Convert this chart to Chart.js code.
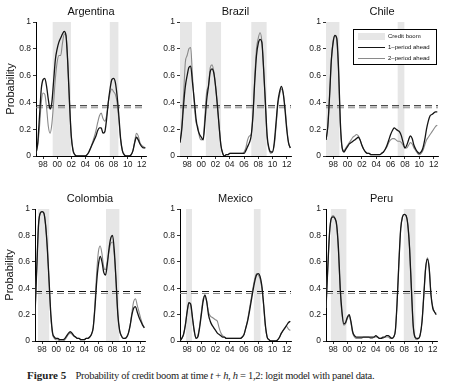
<!DOCTYPE html>
<html><head><meta charset="utf-8">
<script src="https://cdn.jsdelivr.net/npm/chart.js@4.4.1/dist/chart.umd.min.js"></script>
<style>
html,body{margin:0;padding:0;background:#fff;width:451px;height:383px;overflow:hidden;position:relative;font-family:"Liberation Sans",Arial,sans-serif;}
canvas{position:absolute;}
.ttl{position:absolute;text-align:center;font-size:11px;color:#111;line-height:13px;}
#legend{position:absolute;left:353px;top:29px;width:84px;height:36px;border:1px solid #000;background:#fff;font-size:6px;color:#111;box-sizing:border-box;}
#legend .sw{position:absolute;left:4px;width:27px;}
#legend .tx{position:absolute;left:34px;line-height:7px;white-space:nowrap;}
#cap{position:absolute;left:27px;top:369px;font-family:"Liberation Serif","Times New Roman",serif;font-size:10.5px;color:#222;white-space:nowrap;letter-spacing:-0.3px;}
#cap b{font-size:11px;letter-spacing:0;}
</style>
</head><body>
<script>
// ---- data ----
const quarters = [1997.00,1997.25,1997.50,1997.75,1998.00,1998.25,1998.50,1998.75,1999.00,1999.25,1999.50,1999.75,
2000.00,2000.25,2000.50,2000.75,2001.00,2001.25,2001.50,2001.75,2002.00,2002.25,2002.50,2002.75,
2003.00,2003.25,2003.50,2003.75,2004.00,2004.25,2004.50,2004.75,2005.00,2005.25,2005.50,2005.75,
2006.00,2006.25,2006.50,2006.75,2007.00,2007.25,2007.50,2007.75,2008.00,2008.25,2008.50,2008.75,
2009.00,2009.25,2009.50,2009.75,2010.00,2010.25,2010.50,2010.75,2011.00,2011.25,2011.50,2011.75,
2012.00,2012.25,2012.50];
const xTickValues = [1998,2000,2002,2004,2006,2008,2010,2012];
const yTickValues = [0,0.2,0.4,0.6,0.8,1];
const threshold1 = 0.375;
const threshold2 = 0.36;

const argentina1 = [0.02,0.10,0.30,0.50, 0.57,0.58,0.52,0.42, 0.35,0.40,0.56,0.72, 0.80,0.85,0.88,0.91, 0.93,0.90,0.70,0.40, 0.15,0.04,0.01,0.00, 0.00,0.00,0.00,0.00, 0.00,0.01,0.03,0.06, 0.09,0.12,0.15,0.19, 0.21,0.21,0.17,0.18, 0.27,0.40,0.50,0.57, 0.58,0.55,0.45,0.30, 0.13,0.04,0.01,0.00, 0.00,0.00,0.01,0.04, 0.10,0.14,0.12,0.09, 0.07,0.06,0.06];
const argentina2 = [0.02,0.08,0.22,0.40, 0.47,0.46,0.36,0.22, 0.17,0.24,0.40,0.58, 0.70,0.75,0.75,0.84, 0.91,0.90,0.70,0.40, 0.15,0.05,0.01,0.00, 0.00,0.00,0.00,0.00, 0.00,0.01,0.03,0.06, 0.10,0.14,0.19,0.25, 0.30,0.32,0.28,0.26, 0.30,0.40,0.47,0.50, 0.48,0.46,0.40,0.27, 0.12,0.04,0.01,0.00, 0.00,0.00,0.01,0.04, 0.11,0.17,0.15,0.10, 0.08,0.07,0.06];
const argentinaBoom = [[1999.33,2001.96],[2007.43,2008.72]];

const brazil1 = [0.10,0.20,0.38,0.52, 0.60,0.66,0.67,0.55, 0.42,0.28,0.20,0.16, 0.14,0.12,0.25,0.42, 0.52,0.63,0.65,0.62, 0.52,0.38,0.22,0.08, 0.02,0.00,0.01,0.01, 0.02,0.02,0.02,0.02, 0.02,0.02,0.02,0.02, 0.02,0.04,0.07,0.10, 0.15,0.30,0.55,0.75, 0.84,0.87,0.85,0.65, 0.40,0.15,0.06,0.03, 0.03,0.10,0.25,0.40, 0.48,0.52,0.47,0.35, 0.20,0.10,0.06];
const brazil2 = [0.10,0.22,0.45,0.70, 0.75,0.80,0.81,0.60, 0.40,0.25,0.22,0.14, 0.12,0.13,0.30,0.48, 0.52,0.66,0.68,0.63, 0.52,0.38,0.22,0.08, 0.02,0.00,0.01,0.01, 0.02,0.02,0.02,0.02, 0.02,0.02,0.02,0.02, 0.03,0.06,0.12,0.15, 0.16,0.30,0.58,0.80, 0.88,0.92,0.86,0.65, 0.38,0.13,0.05,0.02, 0.03,0.08,0.22,0.38, 0.46,0.50,0.47,0.37, 0.22,0.10,0.06];
const brazilBoom = [[1997.0,1998.7],[2000.6,2002.8],[2007.0,2009.2]];

const chile1 = [0.12,0.22,0.45,0.72, 0.85,0.90,0.88,0.65, 0.25,0.06,0.03,0.05, 0.07,0.09,0.10,0.11, 0.12,0.13,0.14,0.12, 0.08,0.05,0.03,0.02, 0.02,0.01,0.01,0.01, 0.01,0.01,0.01,0.02, 0.03,0.05,0.08,0.12, 0.16,0.19,0.21,0.20, 0.19,0.18,0.15,0.10, 0.06,0.08,0.12,0.15, 0.13,0.08,0.05,0.03, 0.02,0.03,0.06,0.12, 0.20,0.26,0.30,0.31, 0.32,0.33,0.33];
const chile2 = [0.12,0.22,0.45,0.72, 0.86,0.90,0.86,0.62, 0.22,0.06,0.04,0.06, 0.08,0.10,0.12,0.14, 0.15,0.16,0.15,0.12, 0.08,0.05,0.03,0.02, 0.02,0.01,0.01,0.01, 0.01,0.01,0.01,0.02, 0.03,0.05,0.07,0.10, 0.12,0.13,0.13,0.12, 0.11,0.11,0.10,0.08, 0.06,0.06,0.08,0.10, 0.09,0.06,0.04,0.02, 0.01,0.02,0.04,0.08, 0.12,0.14,0.16,0.18, 0.20,0.22,0.23];
const chileBoom = [[1997.0,1998.9],[2006.95,2007.95]];

const colombia1 = [0.20,0.55,0.88,0.97, 0.98,0.97,0.88,0.70, 0.45,0.20,0.06,0.03, 0.02,0.02,0.01,0.01, 0.01,0.02,0.04,0.06, 0.07,0.06,0.04,0.03, 0.02,0.02,0.01,0.01, 0.01,0.02,0.02,0.03, 0.05,0.10,0.25,0.45, 0.58,0.64,0.60,0.52, 0.50,0.58,0.70,0.78, 0.80,0.68,0.45,0.20, 0.08,0.04,0.02,0.02, 0.03,0.06,0.12,0.20, 0.25,0.26,0.22,0.18, 0.15,0.12,0.10];
const colombia2 = [0.20,0.55,0.88,0.97, 0.98,0.97,0.88,0.70, 0.45,0.18,0.05,0.02, 0.01,0.01,0.00,0.00, 0.00,0.01,0.03,0.05, 0.06,0.05,0.04,0.03, 0.02,0.02,0.01,0.01, 0.01,0.02,0.02,0.03, 0.05,0.10,0.28,0.52, 0.68,0.72,0.66,0.56, 0.54,0.60,0.68,0.74, 0.75,0.65,0.45,0.20, 0.08,0.04,0.02,0.02, 0.03,0.06,0.12,0.22, 0.30,0.32,0.27,0.22, 0.17,0.13,0.10];
const colombiaBoom = [[1997.4,1999.05],[2007.05,2009.0]];

const mexico1 = [0.00,0.02,0.05,0.12, 0.22,0.29,0.28,0.18, 0.08,0.02,0.03,0.10, 0.20,0.30,0.35,0.30, 0.20,0.15,0.12,0.10, 0.08,0.06,0.05,0.04, 0.03,0.03,0.02,0.02, 0.02,0.02,0.02,0.02, 0.02,0.02,0.02,0.03, 0.05,0.10,0.15,0.22, 0.30,0.38,0.45,0.50, 0.51,0.49,0.42,0.28, 0.12,0.03,0.01,0.00, 0.00,0.00,0.00,0.01, 0.03,0.06,0.08,0.10, 0.12,0.14,0.15];
const mexico2 = [0.00,0.02,0.05,0.12, 0.22,0.29,0.27,0.17, 0.07,0.02,0.04,0.11, 0.22,0.32,0.34,0.30, 0.22,0.19,0.18,0.17, 0.16,0.15,0.10,0.06, 0.04,0.03,0.02,0.02, 0.02,0.02,0.02,0.02, 0.02,0.02,0.02,0.03, 0.05,0.10,0.16,0.24, 0.32,0.40,0.47,0.51, 0.50,0.47,0.40,0.27, 0.11,0.03,0.01,0.00, 0.00,0.00,0.00,0.01, 0.03,0.06,0.08,0.10, 0.11,0.09,0.08];
const mexicoBoom = [[1997.85,1998.7],[2007.35,2008.35]];

const peru1 = [0.25,0.55,0.82,0.93, 0.94,0.93,0.88,0.70, 0.40,0.22,0.13,0.14, 0.18,0.20,0.15,0.07, 0.04,0.03,0.03,0.03, 0.03,0.03,0.03,0.03, 0.03,0.03,0.03,0.03, 0.04,0.03,0.02,0.02, 0.03,0.03,0.04,0.04, 0.03,0.02,0.03,0.08, 0.30,0.60,0.85,0.94, 0.96,0.95,0.88,0.70, 0.40,0.12,0.03,0.02, 0.02,0.05,0.15,0.35, 0.55,0.62,0.55,0.35, 0.25,0.22,0.20];
const peru2 = [0.25,0.55,0.82,0.93, 0.95,0.93,0.87,0.68, 0.38,0.20,0.12,0.13, 0.17,0.19,0.14,0.06, 0.03,0.02,0.02,0.02, 0.02,0.03,0.03,0.03, 0.03,0.02,0.02,0.03, 0.03,0.03,0.02,0.02, 0.02,0.03,0.03,0.03, 0.02,0.02,0.03,0.08, 0.30,0.60,0.85,0.94, 0.96,0.95,0.88,0.70, 0.40,0.12,0.03,0.01, 0.02,0.05,0.15,0.35, 0.55,0.63,0.56,0.36, 0.26,0.22,0.21];
const peruBoom = [[1997.65,1999.9],[2007.9,2009.6]];

// ---- layout ----
const panels = [
  {name:'Argentina', one:argentina1, two:argentina2, boom:argentinaBoom, px:36,  py:22,  pw:110, ph:134, left:true},
  {name:'Brazil',    one:brazil1,    two:brazil2,    boom:brazilBoom,    px:180, py:22,  pw:111, ph:134, left:false},
  {name:'Chile',     one:chile1,     two:chile2,     boom:chileBoom,     px:326, py:22,  pw:112, ph:134, left:false},
  {name:'Colombia',  one:colombia1,  two:colombia2,  boom:colombiaBoom,  px:35,  py:209, pw:110, ph:132, left:true},
  {name:'Mexico',    one:mexico1,    two:mexico2,    boom:mexicoBoom,    px:180, py:209, pw:111, ph:132, left:false},
  {name:'Peru',      one:peru1,      two:peru2,      boom:peruBoom,      px:326, py:209, pw:111, ph:132, left:false}
];

const AXW = 34, PADT = 8, PADR = 6, XH = 18;
function fmtY(v){ if (Math.abs(v) < 1e-9) return '0'; if (Math.abs(v-1) < 1e-9) return '1'; return v.toFixed(1); }
function fmtX(v){ const r = Math.round(v) % 100; return (r < 10 ? '0' : '') + r; }

panels.forEach(p => {
  const c = document.createElement('canvas');
  const W = AXW + p.pw + PADR, H = PADT + p.ph + XH;
  c.width = W; c.height = H;
  c.style.left = (p.px - AXW) + 'px'; c.style.top = (p.py - PADT) + 'px';
  c.style.width = W + 'px'; c.style.height = H + 'px';
  document.body.appendChild(c);

  const t = document.createElement('div');
  t.className = 'ttl'; t.textContent = p.name;
  t.style.left = p.px + 'px'; t.style.width = p.pw + 'px'; t.style.top = (p.py - 17) + 'px';
  document.body.appendChild(t);

  const ds = [];
  ds.push({data: quarters.map((x,i)=>({x, y:p.one[i]})), borderColor:'#151515', borderWidth:1.3, pointRadius:0, cubicInterpolationMode:'monotone', fill:false});
  ds.push({data: quarters.map((x,i)=>({x, y:p.two[i]})), borderColor:'#8a8a8a', borderWidth:1.1, pointRadius:0, cubicInterpolationMode:'monotone', fill:false});
  ds.push({data:[{x:1997,y:threshold1},{x:2012.6,y:threshold1}], borderColor:'#111', borderWidth:1, borderDash:[7,4], pointRadius:0, fill:false});
  ds.push({data:[{x:1997,y:threshold2},{x:2012.6,y:threshold2}], borderColor:'#8a8a8a', borderWidth:1, borderDash:[7,4], pointRadius:0, fill:false});
  p.boom.forEach(b => ds.push({data:[{x:b[0],y:1},{x:b[1],y:1}], borderWidth:0, borderColor:'rgba(0,0,0,0)', backgroundColor:'#e6e6e6', fill:'origin', pointRadius:0}));

  new Chart(c, {
    type:'line',
    data:{datasets:ds},
    options:{
      responsive:false, animation:false, devicePixelRatio:1,
      layout:{padding:{left:0, right:PADR, top:PADT, bottom:0}},
      plugins:{legend:{display:false}, tooltip:{enabled:false}, title:{display:false}},
      scales:{
        x:{type:'linear', min:1997, max:2012.6,
           afterBuildTicks:s=>{ s.ticks = xTickValues.map(v=>({value:v})); },
           afterFit:s=>{ s.height = XH; },
           ticks:{callback:v=>fmtX(v), font:{family:'Liberation Sans', size:8.5}, color:'#222', padding:1, maxRotation:0, autoSkip:false},
           grid:{display:true, drawOnChartArea:false, drawTicks:true, tickLength:3, color:'#000', lineWidth:0.8},
           border:{display:true, color:'#000', width:1}},
        y:{min:0, max:1,
           afterBuildTicks:s=>{ s.ticks = yTickValues.map(v=>({value:v})); },
           afterFit:s=>{ s.width = AXW; },
           ticks:{callback:v=>fmtY(v), font:{family:'Liberation Sans', size:8.5}, color:'#222', padding:2},
           grid:{display:true, drawOnChartArea:false, drawTicks:true, tickLength:3, color:'#000', lineWidth:0.8},
           border:{display:true, color:'#000', width:1},
           title:{display:p.left, text:'Probability', font:{family:'Liberation Sans', size:11}, color:'#111', padding:{top:2,bottom:0}}}
      }
    }
  });
});
</script>
<div id="legend">
  <div class="sw" style="top:3px;height:7px;background:#e6e6e6;"></div><div class="tx" style="top:3px;">Credit boom</div>
  <div class="sw" style="top:17px;height:0;border-top:1.2px solid #151515;"></div><div class="tx" style="top:14px;">1–period ahead</div>
  <div class="sw" style="top:28px;height:0;border-top:1.1px solid #8a8a8a;"></div><div class="tx" style="top:25px;">2–period ahead</div>
</div>
<div id="cap"><b>Figure 5</b>&nbsp;&nbsp;&nbsp; Probability of credit boom at time <i>t</i> + <i>h</i>, <i>h</i> = 1,2: logit model with panel data.</div>
</body></html>
